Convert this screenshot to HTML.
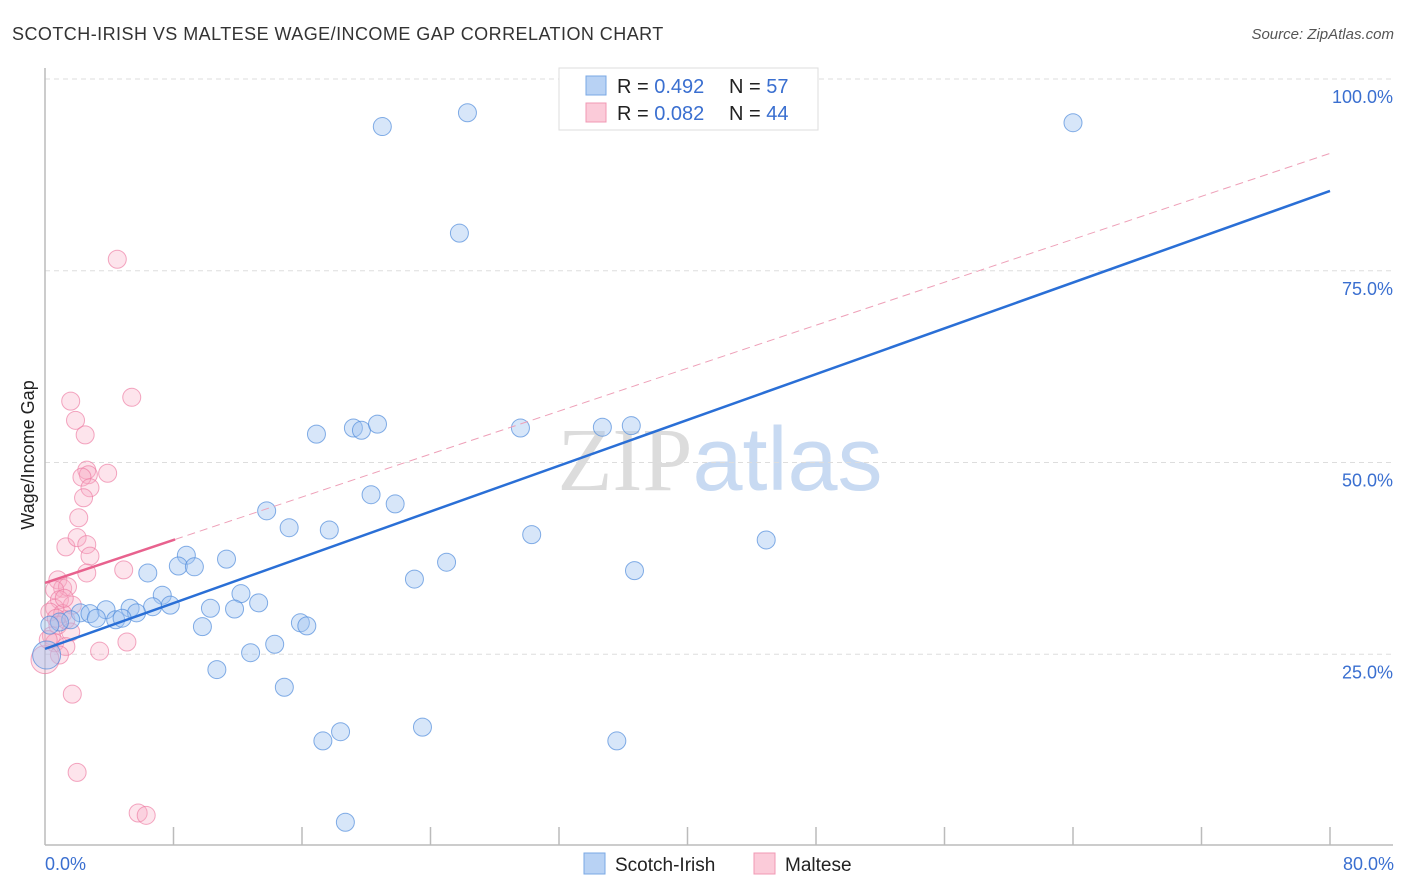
<!DOCTYPE html>
<html><head><meta charset="utf-8"><style>
body{margin:0;background:#fff;font-family:"Liberation Sans",sans-serif}
svg{display:block}
</style></head><body>
<svg id="chart" width="1406" height="892">
<text x="12" y="40" font-size="18" fill="#333" letter-spacing="0.45">SCOTCH-IRISH VS MALTESE WAGE/INCOME GAP CORRELATION CHART</text>
<text x="1394" y="39" font-size="15" fill="#555" font-style="italic" text-anchor="end">Source: ZipAtlas.com</text>
<text x="720" y="490" font-size="90" text-anchor="middle"><tspan fill="#dcdcdc" font-family="Liberation Serif">ZIP</tspan><tspan fill="#c8daf2">atlas</tspan></text>
<g id="grid"></g><g id="axes"></g><g id="marks"></g>
<text transform="translate(34,455) rotate(-90)" font-size="18" fill="#222" text-anchor="middle">Wage/Income Gap</text>
<text x="45" y="870" font-size="18" fill="#3a6fd0">0.0%</text>
<text x="1394" y="870" font-size="18" fill="#3a6fd0" text-anchor="end">80.0%</text>
<g>
<rect x="559" y="68" width="259" height="62" fill="#fff" stroke="#ddd"/>
<rect x="586" y="76" width="20" height="19" fill="#b8d2f4" stroke="#7aa8e4"/>
<rect x="586" y="103" width="20" height="19" fill="#fbcbd9" stroke="#f098b4"/>
<text x="617" y="93" font-size="20" fill="#222">R = <tspan fill="#3a6fd0">0.492</tspan></text>
<text x="729" y="93" font-size="20" fill="#222">N = <tspan fill="#3a6fd0">57</tspan></text>
<text x="617" y="120" font-size="20" fill="#222">R = <tspan fill="#3a6fd0">0.082</tspan></text>
<text x="729" y="120" font-size="20" fill="#222">N = <tspan fill="#3a6fd0">44</tspan></text>
</g>
<g>
<rect x="584" y="853" width="21" height="21" fill="#b8d2f4" stroke="#7aa8e4"/>
<text x="615" y="871" font-size="19" fill="#222">Scotch-Irish</text>
<rect x="754" y="853" width="21" height="21" fill="#fbcbd9" stroke="#f098b4"/>
<text x="785" y="871" font-size="19" fill="#222">Maltese</text>
</g>
</svg>
<script>
const blueX=[21.0,26.3,64.0,25.8,16.9,19.2,19.7,20.7,29.6,34.7,36.5,20.3,21.8,13.8,15.2,17.7,30.3,44.9,8.8,11.3,8.3,9.3,6.4,25.0,23.0,36.7,7.3,12.2,13.3,7.8,6.7,5.3,10.3,11.8,3.8,5.7,2.2,2.8,3.2,4.4,4.8,1.6,0.9,9.8,15.9,16.3,14.3,12.8,10.7,14.9,0.1,0.3,18.4,17.3,23.5,35.6,18.7];
const blueY=[93.8,95.6,94.3,79.9,53.7,54.5,54.2,55.0,54.5,54.6,54.8,45.8,44.6,43.7,41.5,41.2,40.6,39.9,37.9,37.4,36.5,36.4,35.6,37.0,34.8,35.9,32.7,32.9,31.7,31.4,31.2,31.0,31.0,30.9,30.8,30.4,30.4,30.3,29.7,29.5,29.7,29.5,29.2,28.6,29.1,28.7,26.3,25.2,23.0,20.7,24.9,28.8,14.9,13.7,15.5,13.7,3.1];
const pinkX=[4.5,5.4,1.6,1.9,2.5,2.6,2.7,2.3,3.9,2.8,2.4,2.1,1.3,2.0,2.6,2.8,4.9,2.6,0.8,1.1,1.4,0.6,0.9,1.7,0.6,0.3,1.1,1.3,0.8,1.6,0.4,0.6,1.3,0.9,3.4,5.1,0.0,1.7,2.0,5.8,6.3,0.2,0.7,1.2];
const pinkY=[76.5,58.5,58.0,55.5,53.6,49.0,48.4,48.1,48.6,46.7,45.4,42.8,39.0,40.2,39.3,37.8,36.0,35.6,34.7,33.6,33.8,33.4,32.1,31.4,31.0,30.5,30.3,29.5,28.8,27.9,27.4,26.5,26.0,24.9,25.4,26.6,24.3,19.8,9.6,4.3,4.0,26.9,29.7,32.3];
const blueTrend=[25.7,85.4];
const pinkTrend=[34.3,0.7];
const yTicks=[25,50,75,100];
const yTickLabels=["25.0%","50.0%","75.0%","100.0%"];
const xTicks=[8,16,24,32,40,48,56,64,72,80];
const NS="http://www.w3.org/2000/svg";
const sx=v=>45+v/80*1285, sy=v=>846-v/100*767;
function mk(t,a,p){const e=document.createElementNS(NS,t);for(const k in a)e.setAttribute(k,a[k]);p.appendChild(e);return e;}
const grid=document.getElementById('grid'),axes=document.getElementById('axes'),marks=document.getElementById('marks');
yTicks.forEach((v,i)=>{
 const l=mk('line',{x1:45,x2:1393,y1:sy(v),y2:sy(v),stroke:'#ddd','stroke-dasharray':'5,4'},grid);
 
 
 const t=mk('text',{x:1393,y:sy(v)+24,'font-size':18,fill:'#3a6fd0','text-anchor':'end'},axes);
 t.textContent=yTickLabels[i];
 
 
});
const ax=mk('line',{x1:45,x2:1393,y1:845,y2:845,stroke:'#bbb','stroke-width':1.5},axes);


const ay=mk('line',{x1:45,x2:45,y1:68,y2:845,stroke:'#bbb','stroke-width':1.5},axes);


xTicks.forEach(v=>{
 const l=mk('line',{x1:sx(v),x2:sx(v),y1:827,y2:845,stroke:'#bbb','stroke-width':1.5},axes);
 
 
});
function pts(X,Y,fill,stroke,name){X.forEach((x,i)=>{
 const big=(x<0.2);
 const c=mk('circle',{cx:sx(x),cy:sy(Y[i]),r:big?14:9,fill:fill,stroke:stroke,'stroke-width':1},marks);
 
 
});}
pts(pinkX,pinkY,'rgba(248,170,195,0.32)','rgba(236,120,160,0.65)','maltese-point');
pts(blueX,blueY,'rgba(160,196,240,0.42)','rgba(80,140,220,0.7)','scotch-irish-point');
const pd=mk('line',{x1:sx(8.1),y1:sy(pinkTrend[0]+pinkTrend[1]*8.1),x2:sx(80),y2:sy(pinkTrend[0]+pinkTrend[1]*80),stroke:'#eea0b8','stroke-width':1,'stroke-dasharray':'8,5'},marks);


const ps=mk('line',{x1:sx(0),y1:sy(pinkTrend[0]),x2:sx(8.1),y2:sy(pinkTrend[0]+pinkTrend[1]*8.1),stroke:'#e8628e','stroke-width':2.5},marks);


const bl=mk('line',{x1:sx(0),y1:sy(blueTrend[0]),x2:sx(80),y2:sy(blueTrend[1]),stroke:'#2a6fd6','stroke-width':2.5},marks);


</script>
</body></html>
